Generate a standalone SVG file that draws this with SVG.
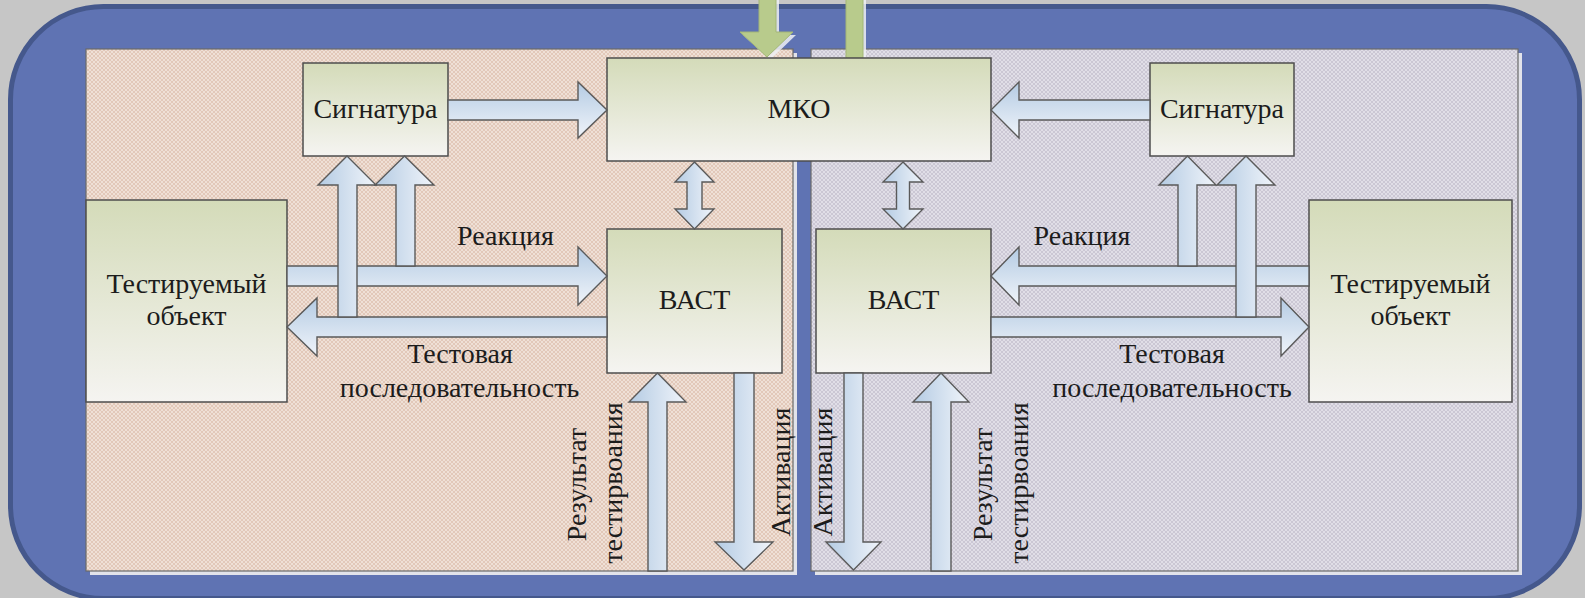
<svg xmlns="http://www.w3.org/2000/svg" width="1585" height="598" viewBox="0 0 1585 598">
<style>
.box{stroke:#4d4d4d;stroke-width:1.5;fill:url(#gBox)}
.av{stroke:#5a5a5a;stroke-width:1.4;fill:url(#gAv);stroke-linejoin:miter}
.ah{stroke:#5a5a5a;stroke-width:1.4;fill:url(#gAh);stroke-linejoin:miter}
.grn{fill:#b8cb8c;stroke:#a3b677;stroke-width:1}
.t{font-family:"Liberation Serif","Times New Roman",serif;font-size:28px;fill:#1c1c1c;text-anchor:middle}
</style>
<defs>
<linearGradient id="gBox" x1="0" y1="0" x2="0" y2="1">
<stop offset="0" stop-color="#d4dbb9"/><stop offset="1" stop-color="#f5f4f1"/>
</linearGradient>
<linearGradient id="gAv" x1="0" y1="0" x2="1" y2="0">
<stop offset="0" stop-color="#b4cbe3"/><stop offset="1" stop-color="#f0f4fa"/>
</linearGradient>
<linearGradient id="gAh" x1="0" y1="0" x2="0" y2="1">
<stop offset="0" stop-color="#b4cbe3"/><stop offset="1" stop-color="#f0f4fa"/>
</linearGradient>
<pattern id="pPeach" width="4" height="4" patternUnits="userSpaceOnUse">
<rect width="4" height="4" fill="#e2c8b9"/>
<circle cx="0" cy="0" r="1" fill="#f4e8e0"/><circle cx="4" cy="0" r="1" fill="#f4e8e0"/>
<circle cx="0" cy="4" r="1" fill="#f4e8e0"/><circle cx="4" cy="4" r="1" fill="#f4e8e0"/>
<circle cx="2" cy="2" r="1" fill="#f4e8e0"/>
</pattern>
<pattern id="pGray" width="4" height="4" patternUnits="userSpaceOnUse">
<rect width="4" height="4" fill="#cbc7d4"/>
<circle cx="0" cy="0" r="1" fill="#e8e6ee"/><circle cx="4" cy="0" r="1" fill="#e8e6ee"/>
<circle cx="0" cy="4" r="1" fill="#e8e6ee"/><circle cx="4" cy="4" r="1" fill="#e8e6ee"/>
<circle cx="2" cy="2" r="1" fill="#e8e6ee"/>
</pattern>
</defs>

<g id="background">
<rect x="0" y="0" width="1585" height="598" fill="#c6c6c6"/>
<rect x="10.5" y="6.5" width="1569" height="592" rx="93" ry="93" fill="#5f73b3" stroke="#45588c" stroke-width="5"/>
</g>

<g id="panels">
<rect x="90" y="53" width="707" height="522" fill="#e2e3ea"/>
<rect x="815" y="53" width="707" height="522" fill="#e2e3ea"/>
<rect x="86" y="49" width="707" height="522" fill="url(#pPeach)" stroke="#6a6a6a" stroke-width="1.2"/>
<rect x="811" y="49" width="707" height="522" fill="url(#pGray)" stroke="#6a6a6a" stroke-width="1.2"/>
</g>

<g id="green-arrows">
<polygon points="762,-2 779,-2 779,35 796,35 770,60 743,35 762,35" fill="#eef0f4" opacity="0.85"/>
<rect x="849" y="-2" width="17" height="63" fill="#eef0f4" opacity="0.85"/>
<polygon class="grn" points="759,-2 776,-2 776,32 793,32 767,57 740,32 759,32"/>
<rect class="grn" x="846" y="-2" width="17" height="60"/>
</g>

<g id="node-mko">
<rect class="box" x="607" y="58" width="384" height="103"/>
<text class="t" x="799" y="118">МКО</text>
</g>
<g id="node-sig-left">
<rect class="box" x="303" y="63" width="145" height="93"/>
<text class="t" x="375.5" y="118">Сигнатура</text>
</g>
<g id="node-sig-right">
<rect class="box" x="1150" y="63" width="144" height="93"/>
<text class="t" x="1222" y="118">Сигнатура</text>
</g>
<g id="node-obj-left">
<rect class="box" x="86" y="200" width="201" height="202"/>
<text class="t" x="186.5" y="293">Тестируемый</text>
<text class="t" x="186.5" y="325">объект</text>
</g>
<g id="node-obj-right">
<rect class="box" x="1309" y="200" width="203" height="202"/>
<text class="t" x="1410.5" y="293">Тестируемый</text>
<text class="t" x="1410.5" y="325">объект</text>
</g>
<g id="node-vast-left">
<rect class="box" x="607" y="229" width="175" height="144"/>
<text class="t" x="694.5" y="309">ВАСТ</text>
</g>
<g id="node-vast-right">
<rect class="box" x="816" y="229" width="175" height="144"/>
<text class="t" x="903.5" y="309">ВАСТ</text>
</g>

<g id="connectors">
<polygon class="ah" points="448,100 578,100 578,82 607,110 578,138 578,120 448,120"/>
<polygon class="ah" points="1150,100 1019,100 1019,82 991,110 1019,138 1019,120 1150,120"/>
<polygon class="av" points="694.5,162 714,182 702,182 702,209 714,209 694.5,229 675,209 687,209 687,182 675,182"/>
<polygon class="av" points="903,162 923,182 909.5,182 909.5,209 923,209 903,229 883,209 896.5,209 896.5,182 883,182"/>
<polygon class="ah" points="287,266 578,266 578,247 607,276 578,305 578,286 287,286"/>
<polygon class="ah" points="607,317 317,317 317,298 287,327 317,356 317,337 607,337"/>
<polygon class="av" points="338,317 338,185 318,185 347,156 376,185 357,185 357,317"/>
<polygon class="av" points="396,266 396,185 375,185 404.5,156 434,185 415,185 415,266"/>
<polygon class="ah" points="1309,266 1019,266 1019,247 991,276 1019,305 1019,286 1309,286"/>
<polygon class="ah" points="991,317 1281,317 1281,298 1309,327 1281,356 1281,337 991,337"/>
<polygon class="av" points="1178,266 1178,185 1159,185 1187.5,156 1216,185 1197,185 1197,266"/>
<polygon class="av" points="1236,317 1236,185 1217,185 1246,156 1275,185 1256,185 1256,317"/>
<polygon class="av" points="648,571 648,402 629,402 657.5,373 686,402 667,402 667,571"/>
<polygon class="av" points="734,373 734,542 715,542 744,570 773,542 754,542 754,373"/>
<polygon class="av" points="844,373 844,542 826,542 853.5,570 881,542 863,542 863,373"/>
<polygon class="av" points="931,571 931,402 913,402 941,373 969,402 951,402 951,571"/>
</g>

<g id="labels">
<text class="t" x="505.5" y="245">Реакция</text>
<text class="t" x="1082" y="245">Реакция</text>
<text class="t" x="460" y="363">Тестовая</text>
<text class="t" x="459.5" y="397">последовательность</text>
<text class="t" x="1172" y="363">Тестовая</text>
<text class="t" x="1172" y="397">последовательность</text>
<text class="t" transform="translate(586,484.5) rotate(-90)">Результат</text>
<text class="t" transform="translate(622,483) rotate(-90)">тестирвоания</text>
<text class="t" transform="translate(790,472) rotate(-90)">Активация</text>
<text class="t" transform="translate(832,472) rotate(-90)">Активация</text>
<text class="t" transform="translate(992,484.5) rotate(-90)">Результат</text>
<text class="t" transform="translate(1028,483) rotate(-90)">тестирвоания</text>
</g>
</svg>
